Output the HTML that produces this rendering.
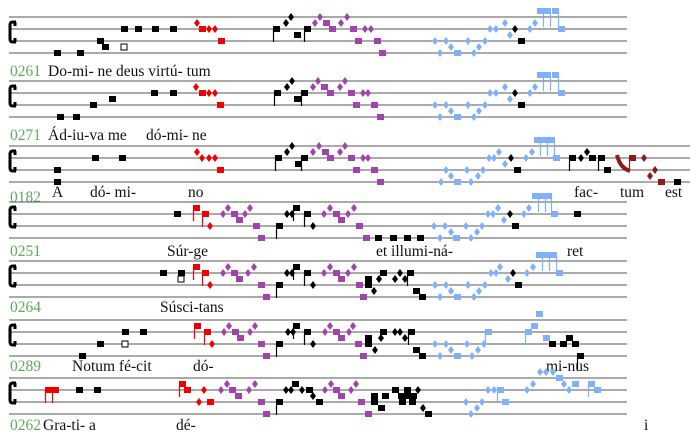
<!DOCTYPE html>
<html><head><meta charset="utf-8">
<style>
html,body{margin:0;padding:0;background:#fff;width:700px;height:439px;overflow:hidden}
svg{display:block}
.lab{font-family:"Liberation Serif",serif;font-size:15.5px;fill:#5ea85e}
.lyr{font-family:"Liberation Serif",serif;font-size:15.5px;fill:#111}
</style></head>
<body>
<svg id="score" width="700" height="439" viewBox="0 0 700 439" xmlns="http://www.w3.org/2000/svg"></svg>
<script>
const staffTops = [17, 81, 146, 202, 261, 320, 378];
const staffEnds = [627, 627, 690, 627, 627, 627, 627];
const staffLabels = ["0261","0271","0182","0251","0264","0289","0262"];
const labelY = [76, 140, 202, 256, 312, 371, 430];
const lyricRows = [
  [[48,"Do-mi- ne  deus virtú- tum"]],
  [[48,"Ád-iu-va me"],[146,"dó-mi-  ne"]],
  [[52,"A"],[90,"dó- mi-"],[188,"no"],[574,"fac-"],[620,"tum"],[665,"est"]],
  [[167,"Súr-ge"],[376,"et illumi-ná-"],[567,"ret"]],
  [[160,"Súsci-tans"]],
  [[72,"Notum fé-cit"],[193,"dó-"],[546,"mi-nus"]],
  [[43,"Gra-ti- a"],[176,"dé-"],[644,"i"]]
];
// notes: x:step:shape:color  (step = half-space below top line)
const notes1 = "57:6:s:k 80:6:s:k 100:4:s:k 105:5:s:k 124:2:s:k 124:5:h:k 138:2:s:k 155:2:s:k 173:2:s:k 197:1:d:r 202:2:s:r 209:2:d:r 215:2:d:r 221:4:s:r 276:2:S:k 286:1:d:k 291:0:d:k 297:3:s:k 307:2:S:k 315:1:d:p 320:0:d:p 326:1:s:p 332:2:s:p 341:1:d:p 347:0:d:p 353:2:s:p 358:4:s:p 365:2:d:p 371:2:d:p 377:4:s:p 382:6:s:p 435:4:d:b 440:6:d:b 446:4:d:b 451:5:d:b 457:6:s:b 468:4:d:b 474:6:d:b 479:5:d:b 485:4:d:b 490:2:d:b 496:2:d:b 505:1:d:b 510:3:d:b 515:2:d:k 521:4:s:k 530:2:d:b 535:1:d:b 540:-1:R:b 547:-1:R:b 555:-1:R:b 561:2:s:b";
const notes2 = "60:6:s:k 76:6:s:k 93:4:s:k 112:3:s:k 154:2:s:k 173:2:s:k 196:1:d:r 202:2:s:r 209:2:d:r 215:2:d:r 220:4:s:r 277:2:S:k 287:1:d:k 292:0:d:k 297:3:s:k 304:2:S:k 313:1:d:p 318:0:d:p 324:1:s:p 330:2:s:p 340:1:d:p 345:0:d:p 351:2:s:p 356:4:s:p 363:2:d:p 368:2:d:p 374:4:s:p 380:6:s:p 435:4:d:b 440:6:d:b 446:4:d:b 451:5:d:b 457:6:s:b 468:4:d:b 474:6:d:b 479:5:d:b 485:4:d:b 490:2:d:b 496:2:d:b 505:1:d:b 510:3:d:b 515:2:d:k 521:4:s:k 530:2:d:b 535:1:d:b 540:-1:R:b 547:-1:R:b 555:-1:R:b 561:2:s:b";
const notes3 = "57:4:s:k 57:6:s:k 95:2:s:k 122:2:s:k 197:1:d:r 202:2:d:r 209:2:d:r 215:2:d:r 220:4:s:r 278:2:S:k 287:1:d:k 292:0:d:k 298:3:s:k 304:2:S:k 313:1:d:p 319:0:d:p 325:1:s:p 330:2:s:p 340:1:d:p 345:0:d:p 351:2:s:p 356:4:s:p 363:2:d:p 368:2:d:p 374:4:s:p 380:6:s:p 441:6:d:b 446:4:d:b 451:5:d:b 457:6:s:b 467:4:d:b 471:6:d:b 478:5:d:b 483:4:d:b 489:2:d:b 494:2:d:b 499:1:d:b 505:3:d:b 511:2:d:k 517:4:s:k 526:2:d:b 532:1:d:b 537:-1:R:b 544:-1:R:b 551:-1:R:b 556:2:s:b 572:2:S:k 581:2:d:k 587:1:d:k 592:2:s:k 601:2:S:k 607:4:s:k 620:2:C:m 632:2:S:m 644:2:d:m 650:5:d:m 655:4:d:m 661:6:s:m 677:6:s:k";
const notes4 = "177:2:s:k 196:1:S:r 205:2:S:r 210:4:d:r 223:2:d:p 228:1:d:p 234:2:s:p 239:3:s:p 245:2:d:p 250:1:d:p 256:4:s:p 261:6:s:p 279:4:S:k 287:2:d:k 292:2:d:k 296:1:S:k 307:2:S:k 313:4:d:k 324:2:d:p 330:1:d:p 336:2:s:p 341:3:s:p 348:2:d:p 354:1:d:p 359:4:s:p 366:6:s:p 378:6:s:k 393:6:s:k 407:6:s:k 420:6:s:k 434:4:d:b 440:6:d:b 445:4:d:b 451:5:d:b 456:6:s:b 466:4:d:b 471:6:d:b 477:5:d:b 482:4:d:b 488:2:d:b 493:2:d:b 498:1:d:b 504:3:d:b 510:2:d:k 515:4:s:k 524:2:d:b 529:1:d:b 535:-1:R:b 542:-1:R:b 548:-1:R:b 554:2:s:b 577:2:s:k";
const notes5 = "163:2:s:k 181:2:s:k 181:3:h:k 196:1:S:r 205:2:S:r 210:4:d:r 223:2:d:p 228:1:d:p 234:2:s:p 239:3:s:p 248:2:d:p 254:1:d:p 261:4:s:p 266:6:s:p 279:4:S:k 287:2:d:k 292:2:d:k 296:1:S:k 307:2:S:k 313:4:d:k 324:2:d:p 330:1:d:p 336:2:s:p 341:3:s:p 348:2:d:p 354:1:d:p 359:4:s:p 363:6:s:p 368:3:s:k 368:4:s:k 374:5:d:k 379:3:d:k 383:2:s:k 395:3:d:k 400:2:d:k 405:3:d:k 410:2:S:k 416:5:s:k 422:6:s:k 435:4:d:b 440:6:d:b 446:4:d:b 451:5:d:b 457:6:s:b 468:4:d:b 474:6:d:b 479:5:d:b 485:4:d:b 491:2:d:b 496:2:d:b 500:1:d:b 508:3:d:b 513:2:d:k 518:4:s:k 527:2:d:b 533:1:d:b 539:-1:R:b 546:-1:R:b 553:-1:R:b 559:2:s:b";
const notes6 = "82:6:s:k 100:4:s:k 125:2:s:k 125:4:h:k 143:2:s:k 197:1:S:r 207:2:S:r 212:4:d:r 224:2:d:p 229:1:d:p 235:2:s:p 240:3:s:p 250:2:d:p 255:1:d:p 261:4:s:p 266:6:s:p 279:4:S:k 288:2:d:k 293:2:d:k 296:1:S:k 307:2:S:k 313:4:d:k 325:2:d:p 330:1:d:p 336:2:s:p 341:3:s:p 349:2:d:p 353:1:d:p 358:4:s:p 363:6:s:p 368:3:s:k 368:4:s:k 375:5:d:k 381:3:d:k 383:2:s:k 395:2:d:k 400:2:d:k 405:3:d:k 411:2:S:k 416:5:s:k 422:6:s:k 435:4:d:b 440:6:d:b 446:4:d:b 451:5:d:b 457:6:s:b 467:4:d:b 472:6:d:b 478:5:d:b 484:4:d:b 488:2:S:b 528:2:S:b 534:1:s:b 539:-1:s:b 546:3:s:b 552:4:s:k 563:4:s:k 569:3:s:k 575:4:s:k 580:6:S:k";
const notes7 = "48:2:S:r 55:2:S:r 79:2:s:k 97:2:s:k 182:1:S:r 187:2:s:r 199:4:d:r 204:2:d:r 210:4:s:r 221:2:d:p 227:1:d:p 232:2:s:p 238:3:s:p 249:2:d:p 255:1:d:p 261:4:s:p 266:6:s:p 279:4:S:k 286:2:d:k 291:2:d:k 295:1:s:k 302:2:d:k 309:2:s:k 313:3:d:k 319:4:s:k 325:2:d:p 331:1:d:p 336:2:s:p 341:3:s:p 351:2:d:p 356:1:d:p 361:4:s:p 368:6:s:p 374:3:s:k 374:4:s:k 381:5:s:k 385:3:s:k 395:2:s:k 401:3:s:k 407:2:s:k 413:3:s:k 418:2:d:k 402:4:s:k 406:3:s:k 412:4:s:k 423:5:d:k 428:6:s:k 466:4:d:b 471:6:d:b 477:5:d:b 482:4:d:b 488:2:d:b 494:2:d:b 500:2:S:b 505:4:s:b 527:2:d:b 533:1:d:b 540:-1:d:b 546:-1:d:b 553:-1:d:b 559:0:s:b 564:1:d:b 569:2:d:b 575:1:s:b 591:1:S:b 597:2:s:b";
const allNotes = [notes1, notes2, notes3, notes4, notes5, notes6, notes7];

const COLORS = {k:"#000", r:"#f00000", p:"#a043ac", b:"#7fb1fb", m:"#8e1b1b"};
const NS = "http://www.w3.org/2000/svg";
const svg = document.getElementById("score");
function mk(tag, attrs, parent) {
  const e = document.createElementNS(NS, tag);
  for (const k in attrs) e.setAttribute(k, attrs[k]);
  (parent || svg).appendChild(e);
  return e;
}
function yOf(top, step) { return top + step * 6; }

staffTops.forEach((top, si) => {
  const g = mk("g", {});
  
  
  for (let i = 0; i < 4; i++) {
    const ln = mk("line", {x1: 9, x2: staffEnds[si], y1: top + i * 12, y2: top + i * 12, stroke: "#555", "stroke-width": 1}, g);
    
    
  }
  const clef = mk("path", {d: `M16 ${top+5} h-3 q-3 0 -3 3 v14 q0 3 3 3 h3 M15 ${top+5} v4 M15 ${top+21} v4`, stroke: "#000", "stroke-width": 3, fill: "none"}, g);
  
  
  const lab = mk("text", {x: 10, y: labelY[si], class: "lab"}, g);
  lab.textContent = staffLabels[si];
  
  
  lyricRows[si].forEach(([x, t]) => {
    const ly = si === 2 ? labelY[si] - 5 : labelY[si];
    const tx = mk("text", {x: x, y: ly, class: "lyr"}, g);
    tx.textContent = t;
    
    
  });
  allNotes[si].split(" ").forEach(tok => {
    const [xs, ss, shape, c] = tok.split(":");
    const x = +xs, y = yOf(top, +ss), col = COLORS[c];
    let el;
    if (shape === "d") {
      el = mk("path", {d: `M${x} ${y-4} L${x+3} ${y} L${x} ${y+4} L${x-3} ${y} Z`, fill: col}, g);
    } else if (shape === "h") {
      el = mk("rect", {x: x-3, y: y-3, width: 6, height: 6, fill: "#fff", stroke: col, "stroke-width": 1}, g);
    } else if (shape === "C") {
      el = mk("path", {d: `M${x-3} ${y-3} Q${x} ${y+10} ${x+10} ${y+13}`, stroke: col, "stroke-width": 4, fill: "none"}, g);
    } else {
      el = mk("rect", {x: x-3, y: y-3, width: 7, height: 6, fill: col}, g);
      if (shape === "S") mk("line", {x1: x-2.5, x2: x-2.5, y1: y, y2: y+13, stroke: col, "stroke-width": 1.2}, g);
      if (shape === "R") mk("line", {x1: x+3.5, x2: x+3.5, y1: y, y2: y+16, stroke: col, "stroke-width": 1.2}, g);
    }
    
    
  });
});
</script>
</body></html>
